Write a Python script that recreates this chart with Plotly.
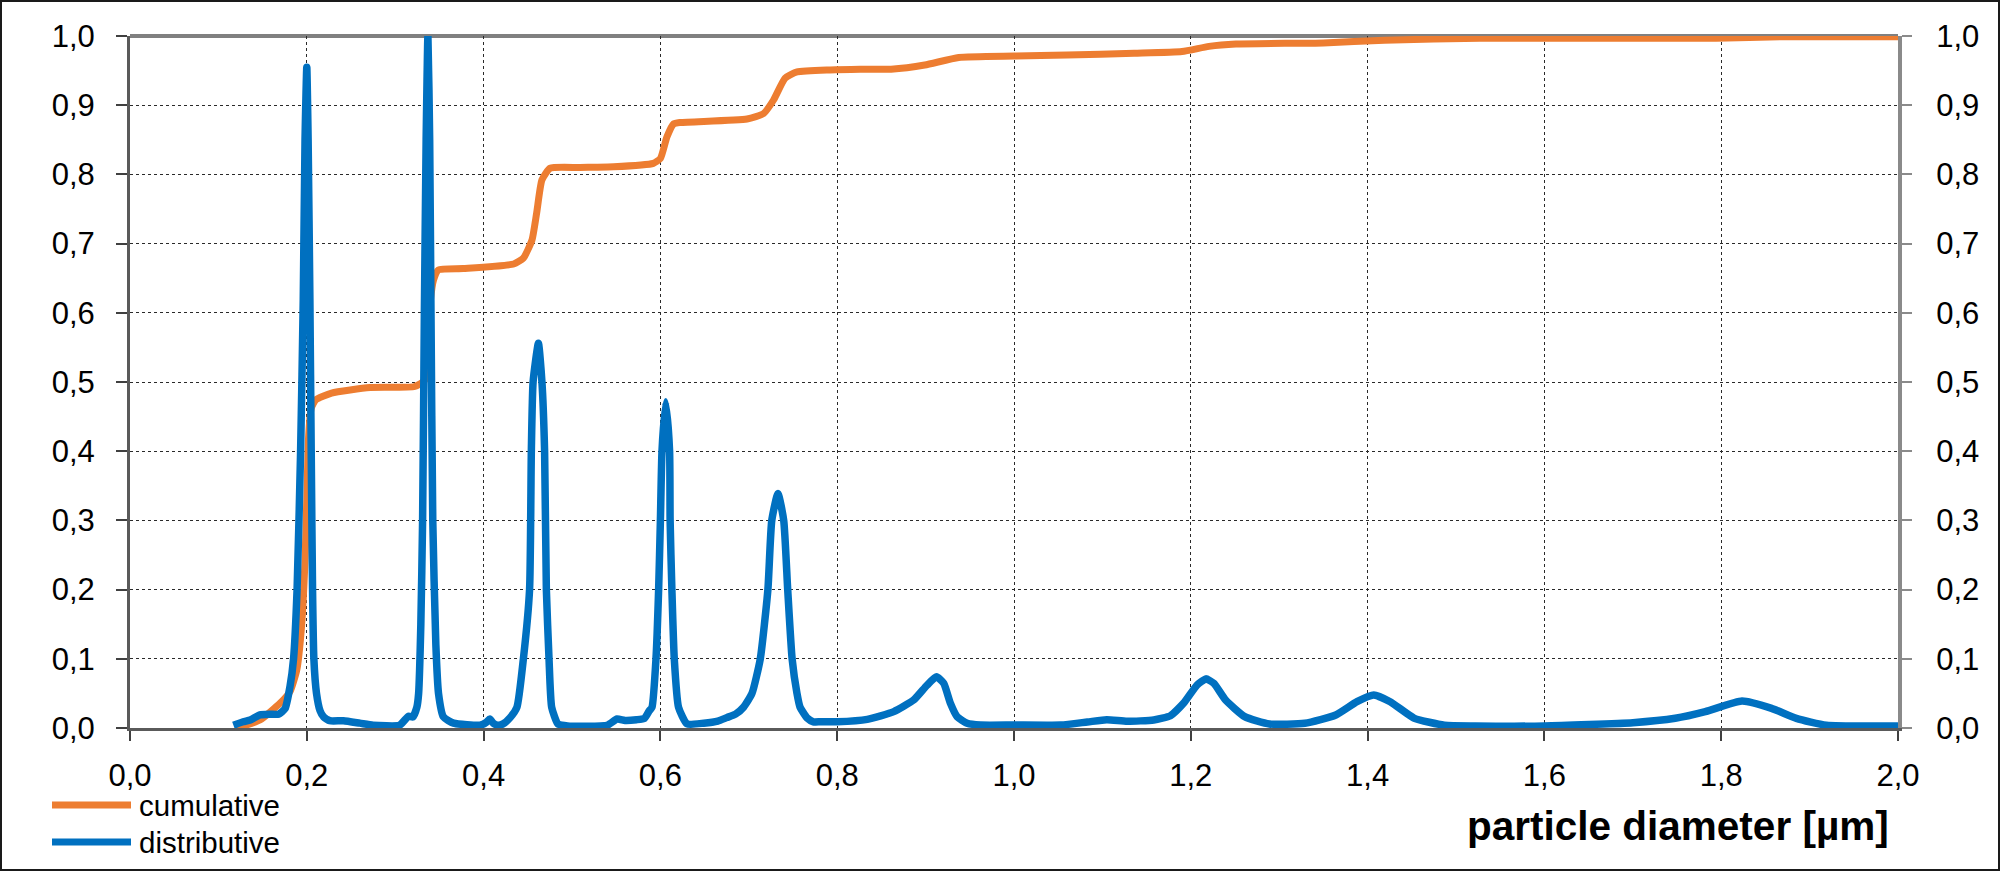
import plotly.graph_objects as go

# ---------------- data ----------------
cum_x = [0.121, 0.147, 0.17, 0.181, 0.1887, 0.194, 0.198, 0.2, 0.202, 0.205, 0.21, 0.228,
         0.2716, 0.322, 0.3336, 0.336, 0.34, 0.3433, 0.349, 0.377, 0.434, 0.445, 0.4547,
         0.460, 0.466, 0.4754, 0.509, 0.547, 0.592, 0.600, 0.6075, 0.615, 0.6225, 0.698,
         0.7168, 0.728, 0.741, 0.7546, 0.792, 0.826, 0.861, 0.899, 0.9375, 1.0, 1.06,
         1.136, 1.19, 1.2205, 1.251, 1.35, 1.419, 1.527, 1.794, 1.871, 2.0]
cum_y = [0.0, 0.0115, 0.036, 0.0525, 0.084, 0.146, 0.243, 0.33, 0.42, 0.462, 0.474, 0.484,
         0.492, 0.4935, 0.503, 0.55, 0.62, 0.647, 0.662, 0.664, 0.6705, 0.679, 0.705,
         0.744, 0.792, 0.809, 0.810, 0.811, 0.816, 0.823, 0.8545, 0.873, 0.875, 0.880,
         0.888, 0.9075, 0.939, 0.948, 0.951, 0.952, 0.952, 0.958, 0.969, 0.971, 0.9725,
         0.975, 0.9775, 0.985, 0.9884, 0.990, 0.994, 0.9966, 0.9966, 0.999, 0.999]

dist_x = [0.117, 0.128, 0.136, 0.147, 0.158, 0.168, 0.1754, 0.181, 0.185, 0.189, 0.193,
          0.196, 0.198, 0.2, 0.2015, 0.2035, 0.205, 0.2065, 0.208, 0.211, 0.215, 0.219,
          0.226, 0.2415, 0.26, 0.275, 0.305, 0.315, 0.32, 0.3245, 0.3265, 0.329, 0.331,
          0.333, 0.335, 0.337, 0.339, 0.3405, 0.3425, 0.346, 0.349, 0.3546, 0.366, 0.396,
          0.403, 0.407, 0.411, 0.416, 0.422, 0.43, 0.4377, 0.445, 0.452, 0.454, 0.456,
          0.462, 0.466, 0.469, 0.471, 0.474, 0.477, 0.484, 0.495, 0.54, 0.551, 0.56,
          0.573, 0.582, 0.5875, 0.5905, 0.595, 0.598, 0.6, 0.6018, 0.606, 0.6104, 0.611,
          0.613, 0.6157, 0.6205, 0.630, 0.649, 0.665, 0.675, 0.685, 0.694, 0.7036, 0.713,
          0.7216, 0.726, 0.733, 0.7395, 0.744, 0.749, 0.7545, 0.758, 0.766, 0.773, 0.781,
          0.8, 0.834, 0.864, 0.8866, 0.9017, 0.9123, 0.9205, 0.928, 0.9357, 0.947, 0.962,
          1.0, 1.053, 1.083, 1.105, 1.128, 1.158, 1.177, 1.192, 1.207, 1.217, 1.226,
          1.2396, 1.261, 1.289, 1.329, 1.364, 1.388, 1.407, 1.4255, 1.453, 1.487, 1.522,
          1.6, 1.70, 1.748, 1.782, 1.8235, 1.857, 1.885, 1.919, 2.0]
dist_y = [0.004, 0.009, 0.0115, 0.019, 0.02, 0.020, 0.028, 0.06, 0.10, 0.2, 0.4,
          0.62, 0.85, 0.955, 0.85, 0.62, 0.4, 0.2, 0.1, 0.05, 0.025, 0.016,
          0.0105, 0.0105, 0.007, 0.004, 0.004, 0.017, 0.016, 0.03, 0.05, 0.15, 0.3,
          0.6, 0.85, 1.0, 0.85, 0.6, 0.3, 0.12, 0.05, 0.016, 0.007, 0.004,
          0.008, 0.013, 0.007, 0.004, 0.006, 0.015, 0.03, 0.1, 0.2, 0.4, 0.5,
          0.556, 0.5, 0.4, 0.2, 0.1, 0.03, 0.006, 0.003, 0.004, 0.013, 0.011,
          0.012, 0.014, 0.025, 0.03, 0.1, 0.2, 0.3, 0.4, 0.4715, 0.4, 0.3,
          0.2, 0.1, 0.03, 0.006, 0.007, 0.01, 0.015, 0.02, 0.03, 0.05, 0.1,
          0.2, 0.3, 0.339, 0.3, 0.2, 0.1, 0.05, 0.03, 0.0145, 0.009, 0.009,
          0.009, 0.0125, 0.0236, 0.0405, 0.062, 0.074, 0.0646, 0.036, 0.0163, 0.0068, 0.0043,
          0.0043, 0.0043, 0.0087, 0.012, 0.0097, 0.0116, 0.0178, 0.036, 0.062, 0.071, 0.0646,
          0.040, 0.0164, 0.0058, 0.0068, 0.0188, 0.038, 0.0477, 0.038, 0.014, 0.004, 0.003,
          0.003, 0.0077, 0.014, 0.0236, 0.039, 0.0284, 0.014, 0.004, 0.003]

x_ticks = [0.0, 0.2, 0.4, 0.6, 0.8, 1.0, 1.2, 1.4, 1.6, 1.8, 2.0]
x_labels = ["0,0", "0,2", "0,4", "0,6", "0,8", "1,0", "1,2", "1,4", "1,6", "1,8", "2,0"]
y_ticks = [0.0, 0.1, 0.2, 0.3, 0.4, 0.5, 0.6, 0.7, 0.8, 0.9, 1.0]
y_labels = ["0,0", "0,1", "0,2", "0,3", "0,4", "0,5", "0,6", "0,7", "0,8", "0,9", "1,0"]

series_names = ["cumulative", "distributive"]
ORANGE = "#ED7D31"
BLUE = "#0070C0"
FONT = "Liberation Sans, Arial, sans-serif"

# ---------------- figure ----------------
W, H = 2000, 871
L, R, T, B = 130, 102, 36, 143
pw, ph = W - L - R, H - T - B


def px_x(p):
    return (p - L) / pw


def px_y(p):
    return (H - B - p) / ph


fig = go.Figure()
fig.add_trace(go.Scatter(x=cum_x, y=cum_y, mode="lines", name=series_names[0],
                         line=dict(color=ORANGE, width=7, shape="spline", smoothing=0.5),
                         yaxis="y", showlegend=False))
fig.add_trace(go.Scatter(x=dist_x, y=dist_y, mode="lines", name=series_names[1],
                         line=dict(color=BLUE, width=7.5, shape="spline", smoothing=0.5),
                         yaxis="y2", showlegend=False))

common_tick_font = dict(family=FONT, size=31, color="#000000")

fig.update_layout(
    width=W, height=H,
    margin=dict(l=L, r=R, t=T, b=B),
    paper_bgcolor="white", plot_bgcolor="white",
    font=dict(family=FONT, color="#000000"),
    xaxis=dict(range=[0, 2], tickvals=x_ticks, ticktext=x_labels, tickfont=common_tick_font,
               showgrid=True, gridcolor="#2a2a2a", gridwidth=1, griddash="dot",
               showline=True, linecolor="#5a5a5a", linewidth=3,
               ticks="outside", ticklen=10, tickwidth=1.5, tickcolor="#404040",
               ticklabelstandoff=8, zeroline=False, layer="below traces", fixedrange=True),
    yaxis=dict(range=[0, 1], tickvals=y_ticks, ticktext=y_labels, tickfont=common_tick_font,
               showgrid=True, gridcolor="#2a2a2a", gridwidth=1, griddash="dot",
               showline=True, linecolor="#5a5a5a", linewidth=3,
               ticks="outside", ticklen=11, tickwidth=1.5, tickcolor="#404040",
               ticklabelstandoff=15, zeroline=False, layer="below traces", fixedrange=True),
    yaxis2=dict(range=[0, 1], tickvals=y_ticks, ticktext=y_labels, tickfont=common_tick_font,
                overlaying="y", side="right", showgrid=False,
                showline=True, linecolor="#8a8a8a", linewidth=4,
                ticks="outside", ticklen=10, tickwidth=1.5, tickcolor="#8a8a8a",
                ticklabelstandoff=18, zeroline=False, layer="below traces", fixedrange=True),
)

shapes = [
    # top border of the plot area
    dict(type="line", xref="paper", yref="paper", x0=0, x1=1, y0=1, y1=1,
         line=dict(color="#808080", width=4), layer="below"),
    # outer frame of the picture
    dict(type="rect", xref="paper", yref="paper",
         x0=px_x(1), x1=px_x(W - 1), y0=px_y(H - 1), y1=px_y(1),
         line=dict(color="#1a1a1a", width=2), layer="below"),
    # legend samples
    dict(type="line", xref="paper", yref="paper", x0=px_x(52), x1=px_x(131),
         y0=px_y(805), y1=px_y(805), line=dict(color=ORANGE, width=7)),
    dict(type="line", xref="paper", yref="paper", x0=px_x(52), x1=px_x(131),
         y0=px_y(842), y1=px_y(842), line=dict(color=BLUE, width=7)),
]
fig.update_layout(shapes=shapes)

annotations = [
    dict(xref="paper", yref="paper", x=px_x(137), y=px_y(805), xanchor="left", yanchor="middle",
         text=series_names[0], showarrow=False, font=dict(family=FONT, size=29.5, color="#000")),
    dict(xref="paper", yref="paper", x=px_x(137), y=px_y(842), xanchor="left", yanchor="middle",
         text=series_names[1], showarrow=False, font=dict(family=FONT, size=29.5, color="#000")),
    dict(xref="paper", yref="paper", x=px_x(1891), y=px_y(826), xanchor="right", yanchor="middle",
         text="<b>particle diameter [µm]</b>", showarrow=False,
         font=dict(family=FONT, size=40.5, color="#000")),
]
fig.update_layout(annotations=annotations)

fig.write_html("out.html", config={"displayModeBar": False},
               post_script="document.body.style.margin='0';document.body.style.overflow='hidden';")
